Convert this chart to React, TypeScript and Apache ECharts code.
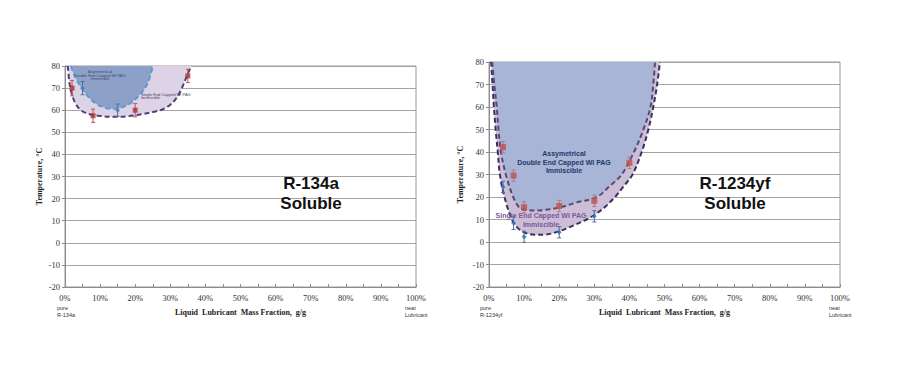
import React, { useEffect, useRef } from 'react';
import * as echarts from 'echarts';

// ---------- Left panel: R-134a ----------
const leftSingleCurveX = [0.8, 1.3, 2, 3, 4.5, 7, 10, 14, 18, 22, 26, 28, 30, 32, 33.3, 34.6, 36];
const leftSingleCurveY = [80, 72, 67, 63, 60, 58.2, 57.4, 57, 57.3, 58.2, 59.5, 60.5, 62.5, 66, 70, 75, 80];
const leftDoubleCurveX = [1.7, 2.6, 4.7, 7, 9, 11, 13, 15, 17, 19, 21, 22.8, 24, 25];
const leftDoubleCurveY = [80, 76, 70, 65.5, 62.8, 61.3, 60.6, 60.8, 61.8, 63.5, 66.5, 70, 74, 80];
const leftRedX = [2, 8, 20, 35];
const leftRedY = [70, 57.5, 60, 75.5];
const leftRedErr = [3.5, 3, 3, 3];
const leftBlueX = [5, 15];
const leftBlueY = [70, 60];
const leftBlueErr = [3, 2.8];

// ---------- Right panel: R-1234yf ----------
const rightSingleCurveX = [0.6, 1, 1.4, 1.9, 2.5, 3.1, 4.4, 6.5, 8, 10, 13, 16, 20, 24, 27.8, 30, 33, 35.9, 38.5, 40.9, 43.5, 45.4, 46.8, 47.9, 48.7];
const rightSingleCurveY = [80, 70, 60, 50, 40, 30, 20, 10, 6.5, 4.3, 3.2, 3.3, 4.8, 7.3, 10, 12, 15.5, 20, 25, 30, 40, 50, 60, 70, 80];
const rightDoubleCurveX = [0.9, 1.5, 2.2, 2.7, 3.4, 4.8, 6.9, 8.8, 11, 13.5, 16, 20, 25, 30.7, 34.5, 37.8, 41.3, 44, 46, 46.8, 47.3];
const rightDoubleCurveY = [80, 70, 60, 50, 40, 30, 20, 15.1, 14.2, 14, 14.3, 15.3, 17.6, 20, 25, 30, 40, 50, 60, 70, 80];
const rightRedX = [4, 7, 10, 20, 30, 40];
const rightRedY = [42.2, 29.5, 15.4, 16, 18.3, 35.2];
const rightRedErr = [2.5, 2.5, 2.5, 2.5, 2.5, 2.5];
const rightBlueX = [4, 7, 10, 20, 30];
const rightBlueY = [24.5, 8.4, 2.3, 4.3, 11.4];
const rightBlueErr = [2.5, 2.8, 2.5, 2.5, 2.5];

const X_MIN = 0, X_MAX = 100, X_INT = 10;
const Y_MIN = -20, Y_MAX = 80, Y_INT = 10;

const Y_NAME = 'Temperature, °C';
const X_NAME = 'Liquid  Lubricant  Mass Fraction,  g/g';

const zip2 = (xs: number[], ys: number[]) => xs.map((x, i) => [x, ys[i]]);
const zip3 = (xs: number[], ys: number[], es: number[]) => xs.map((x, i) => [x, ys[i], es[i]]);

const SERIF = '"Liberation Serif", "Times New Roman", serif';
const SANS = '"Liberation Sans", Arial, sans-serif';

function errorBarSeries(idx: number, data: number[][], color: string) {
  return {
    type: 'custom',
    xAxisIndex: idx,
    yAxisIndex: idx,
    z: 5,
    data,
    encode: { x: 0, y: 1 },
    renderItem: (params: any, api: any) => {
      const x = api.value(0);
      const y = api.value(1);
      const e = api.value(2);
      const t = api.coord([x, y + e]);
      const b = api.coord([x, y - e]);
      const hw = 2;
      const st = { stroke: color, lineWidth: 1 };
      return {
        type: 'group',
        children: [
          { type: 'line', shape: { x1: t[0], y1: t[1], x2: b[0], y2: b[1] }, style: st },
          { type: 'line', shape: { x1: t[0] - hw, y1: t[1], x2: t[0] + hw, y2: t[1] }, style: st },
          { type: 'line', shape: { x1: b[0] - hw, y1: b[1], x2: b[0] + hw, y2: b[1] }, style: st },
        ],
      };
    },
  };
}

function areaSeries(idx: number, data: number[][], fill: string, stroke: string, z: number) {
  return {
    type: 'line',
    xAxisIndex: idx,
    yAxisIndex: idx,
    data,
    smooth: 0.35,
    symbol: 'none',
    z,
    lineStyle: { color: stroke, width: 2, type: [5, 3] },
    areaStyle: { color: fill, opacity: 1, origin: 'end' },
  };
}

function markerSeries(idx: number, data: number[][], color: string, symbol: string, size: number) {
  return {
    type: 'scatter',
    xAxisIndex: idx,
    yAxisIndex: idx,
    data,
    symbol,
    symbolSize: size,
    z: 6,
    itemStyle: { color },
  };
}

function xAxis(idx: number) {
  return {
    type: 'value',
    gridIndex: idx,
    min: X_MIN,
    max: X_MAX,
    interval: X_INT,
    name: X_NAME,
    nameLocation: 'middle',
    nameGap: 21,
    nameTextStyle: { fontFamily: SERIF, fontWeight: 'bold', fontSize: 8, color: '#222' },
    axisLine: { show: true, onZero: false, lineStyle: { color: '#8c8c8c', width: 1 } },
    axisTick: { show: true, inside: true, length: 3, lineStyle: { color: '#8c8c8c' } },
    minorTick: { show: true, splitNumber: 2, length: 3, lineStyle: { color: '#8c8c8c' } },
    splitLine: { show: false },
    axisLabel: {
      formatter: (v: number) => `${v}%`,
      fontFamily: SERIF,
      fontSize: 8.5,
      color: '#333',
      margin: 6,
    },
  };
}

function yAxis(idx: number, gap: number) {
  return {
    type: 'value',
    gridIndex: idx,
    min: Y_MIN,
    max: Y_MAX,
    interval: Y_INT,
    name: Y_NAME,
    nameLocation: 'middle',
    nameRotate: 90,
    nameGap: gap,
    nameTextStyle: { fontFamily: SERIF, fontWeight: 'bold', fontSize: 8, color: '#222' },
    axisLine: { show: true, lineStyle: { color: '#8c8c8c', width: 1 } },
    axisTick: { show: true, inside: false, length: 3, lineStyle: { color: '#8c8c8c' } },
    splitLine: { show: true, lineStyle: { color: '#a3a3a3', width: 1.2 } },
    axisLabel: { fontFamily: SERIF, fontSize: 8.5, color: '#333', margin: 5 },
  };
}

function txt(x: number, y: number, text: string, fontSize: number, color: string, opts: any = {}) {
  return {
    type: 'text',
    x,
    y,
    z: 10,
    style: {
      text,
      fontSize,
      fill: color,
      fontFamily: SANS,
      align: 'center',
      verticalAlign: 'middle',
      lineHeight: fontSize * 1.15,
      ...opts,
    },
  };
}

export default function App() {
  const ref = useRef<HTMLDivElement>(null);
  useEffect(() => {
    if (!ref.current) return;
    const chart = echarts.init(ref.current, undefined, { renderer: 'svg' });
    chart.setOption({
      animation: false,
      backgroundColor: '#ffffff',
      grid: [
        { left: 65, top: 66, width: 351, height: 221, show: true, borderColor: '#9a9a9a', borderWidth: 1, backgroundColor: 'transparent' },
        { left: 489, top: 62, width: 351, height: 225, show: true, borderColor: '#9a9a9a', borderWidth: 1, backgroundColor: 'transparent' },
      ],
      xAxis: [xAxis(0), xAxis(1)],
      yAxis: [yAxis(0, 22), yAxis(1, 25)],
      series: [
        areaSeries(0, zip2(leftSingleCurveX, leftSingleCurveY), '#dcd4e6', '#4e3d7c', 2),
        areaSeries(0, zip2(leftDoubleCurveX, leftDoubleCurveY), '#8da1c8', '#5b9bd5', 3),
        errorBarSeries(0, zip3(leftRedX, leftRedY, leftRedErr), '#c0504d'),
        errorBarSeries(0, zip3(leftBlueX, leftBlueY, leftBlueErr), '#4f6f9d'),
        markerSeries(0, zip2(leftRedX, leftRedY), '#a8323a', 'rect', 5),
        markerSeries(0, zip2(leftBlueX, leftBlueY), '#4f81bd', 'diamond', 5),

        areaSeries(1, zip2(rightSingleCurveX, rightSingleCurveY), '#cbbed6', '#3b2f5e', 2),
        areaSeries(1, zip2(rightDoubleCurveX, rightDoubleCurveY), '#a9b5d6', '#5a4873', 3),
        errorBarSeries(1, zip3(rightRedX, rightRedY, rightRedErr), '#b07a86'),
        errorBarSeries(1, zip3(rightBlueX, rightBlueY, rightBlueErr), '#4f6f9d'),
        markerSeries(1, zip2(rightRedX, rightRedY), '#c0504d', 'rect', 6),
        markerSeries(1, zip2(rightBlueX, rightBlueY), '#2f6fbf', 'diamond', 5),
      ],
      graphic: [
        txt(311, 193, 'R-134a\nSoluble', 17, '#111', { fontWeight: 'bold', lineHeight: 20 }),
        txt(735, 193, 'R-1234yf\nSoluble', 17, '#111', { fontWeight: 'bold', lineHeight: 20 }),
        txt(100, 75, 'Asymmetrical\nDouble End Capped WI PAG\nImmiscible', 4, '#3a4a72', { lineHeight: 3.3 }),
        txt(141, 96, 'Single End Capped WI PAG\nImmiscible', 4, '#4a3f6a', { align: 'left', lineHeight: 3.6 }),
        txt(564, 162, 'Assymetrical\nDouble End Capped WI PAG\nImmiscible', 7, '#1f3a6a', { fontWeight: 'bold', lineHeight: 8.5 }),
        txt(541, 220, 'Single End Capped WI PAG\nImmiscible', 7, '#7a5a9c', { fontWeight: 'bold', lineHeight: 8.5 }),
        txt(57, 311, 'pure\nR-134a', 5.5, '#333', { align: 'left', lineHeight: 7 }),
        txt(405, 311, 'neat\nLubricant', 5.5, '#333', { align: 'left', lineHeight: 7 }),
        txt(480, 311, 'pure\nR-1234yf', 5.5, '#333', { align: 'left', lineHeight: 7 }),
        txt(829, 311, 'neat\nLubricant', 5.5, '#333', { align: 'left', lineHeight: 7 }),
      ],
    });
    return () => chart.dispose();
  }, []);
  return (
    <div
      ref={ref}
      style={{ position: 'absolute', left: 0, top: 0, width: 900, height: 375, background: '#fff' }}
    />
  );
}
